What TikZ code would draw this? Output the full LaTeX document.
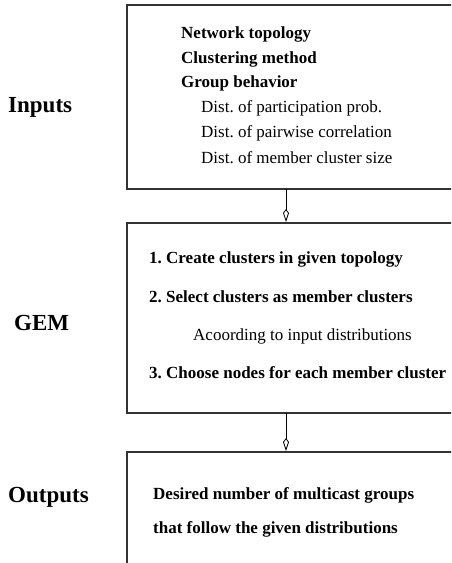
\documentclass[tikz,border=0pt]{standalone}
\usepackage{fontspec}
\setmainfont{Liberation Serif}
\usetikzlibrary{arrows.meta}
\frenchspacing
\begin{document}
\begin{tikzpicture}[x=1pt,y=-1pt,
  box/.style={draw=black!80,line width=1.1pt},
  item/.style={anchor=west,inner sep=0pt,font=\fontsize{17}{20}\selectfont\bfseries\frenchspacing},
  sub/.style={anchor=west,inner sep=0pt,font=\fontsize{17}{20}\selectfont\frenchspacing},
  lbl/.style={anchor=west,inner sep=0pt,font=\fontsize{23}{26}\selectfont\bfseries},
  conn/.style={draw=black,line width=0.8pt,-{Kite[open,length=13pt,width=6pt,inset=4pt]}}]
\useasboundingbox (0,0) rectangle (451,563);
\begin{scope}
\clip (0,0) rectangle (451,563);
% boxes
\draw[box] (470,5) -- (127,5) -- (127,189) -- (470,189);
\draw[box] (470,223) -- (127,223) -- (127,413) -- (470,413);
\draw[box] (470,452) -- (127,452) -- (127,570);
\end{scope}
\coordinate (b1) at (286,189);
\coordinate (t2) at (286,222);
\coordinate (b2) at (286,413);
\coordinate (t3) at (286,451);
% labels
\node[lbl] (lin) at (8,107) {Inputs};
\node[lbl] (lgem) at (14,323) {GEM};
\node[lbl] (lout) at (8,497) {Outputs};
% box 1 text
\node[item] (n1) at (181,34) {Network topology};
\node[item] (n2) at (181,59) {Clustering method};
\node[item] (n3) at (181,83) {Group behavior};
\node[sub] (n4) at (201,108) {Dist. of participation prob.};
\node[sub] (n5) at (201,133) {Dist. of pairwise correlation};
\node[sub] (n6) at (201,158) {Dist. of member cluster size};
% box 2 text
\node[item] (g1) at (149,259) {1. Create clusters in given topology};
\node[item] (g2) at (149,297) {2. Select clusters as member clusters};
\node[sub] (g3) at (193,336) {Acoording to input distributions};
\node[item] (g4) at (149,373) {3. Choose nodes for each member cluster};
% box 3 text
\node[item] (o1) at (153,495) {Desired number of multicast groups};
\node[item] (o2) at (153,529) {that follow the given distributions};
% connectors
\draw[conn] (b1) -- (t2);
\draw[conn] (b2) -- (t3);
\end{tikzpicture}
\end{document}
